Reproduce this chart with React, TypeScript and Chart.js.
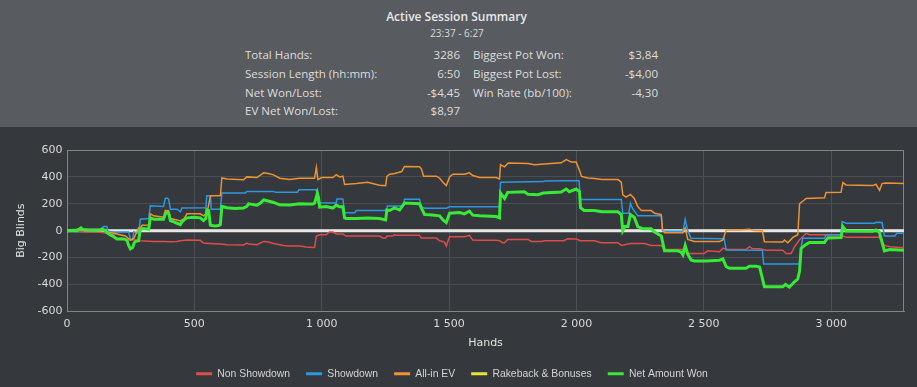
import React, { useEffect, useRef } from "react";
import { Chart, registerables } from "chart.js";

Chart.register(...registerables);

// ---------- header data ----------
const titleText = "Active Session Summary";
const subtitleText = "23:37 - 6:27";
const statLabelsLeft = ["Total Hands:", "Session Length (hh:mm):", "Net Won/Lost:", "EV Net Won/Lost:"];
const statValuesLeft = ["3286", "6:50", "-$4,45", "$8,97"];
const statLabelsRight = ["Biggest Pot Won:", "Biggest Pot Lost:", "Win Rate (bb/100):"];
const statValuesRight = ["$3,84", "-$4,00", "-4,30"];

// ---------- chart data ----------
const seriesNames = ["Non Showdown", "Showdown", "All-in EV", "Rakeback & Bonuses", "Net Amount Won"];
const seriesColors = ["#e04b4b", "#2e98de", "#ef9233", "#e6e63a", "#36ea36"];
const xAxisTitle = "Hands";
const yAxisTitle = "Big Blinds";
const xMin = 0;
const xMax = 3286;
const xTickValues = [0, 500, 1000, 1500, 2000, 2500, 3000];
const yMin = -600;
const yMax = 600;
const yTickValues = [-600, -400, -200, 0, 200, 400, 600];

const nonShowdown = [
  [0, 0], [40, -3], [66, -8], [131, -12], [157, -20], [183, -30], [196, -62], [229, -65], [281, -72], [288, -75],
  [340, -80], [380, -80], [406, -82], [432, -80], [445, -75], [471, -70], [523, -72], [536, -92], [560, -95], [602, -100],
  [628, -105], [693, -107], [706, -92], [713, -100], [746, -105], [772, -80], [790, -85], [811, -95], [850, -110], [874, -115],
  [913, -115], [940, -122], [966, -125], [972, -125], [979, -40], [992, -30], [1018, -30], [1030, -10], [1044, -10], [1057, -25],
  [1083, -25], [1096, -40], [1227, -40], [1240, -55], [1251, -55], [1256, -40], [1280, -40], [1286, -30], [1295, -35], [1384, -35],
  [1391, -55], [1450, -55], [1463, -75], [1482, -85], [1489, -115], [1495, -80], [1502, -45], [1560, -45], [1580, -35], [1593, -70],
  [1620, -72], [1685, -72], [1698, -75], [1710, -90], [1718, -90], [1730, -65], [1810, -65], [1823, -80], [1862, -80], [1875, -75],
  [1950, -75], [1966, -60], [2000, -62], [2015, -75], [2071, -75], [2097, -90], [2163, -90], [2176, -110], [2202, -100], [2215, -95],
  [2267, -95], [2293, -110], [2333, -110], [2346, -140], [2424, -140], [2437, -170], [2502, -170], [2515, -150], [2562, -157], [2575, -130],
  [2588, -140], [2666, -140], [2679, -120], [2692, -135], [2719, -135], [2745, -145], [2810, -145], [2823, -170], [2843, -170], [2856, -120],
  [2875, -70], [2902, -20], [2915, -30], [2974, -30], [2987, -40], [3046, -40], [3059, -50], [3189, -50], [3209, -110], [3230, -120],
  [3286, -127],
];

const showdown = [
  [0, 0], [50, 5], [66, 10], [131, 12], [144, 30], [157, 30], [160, -5], [183, -10], [242, -10], [249, -65],
  [258, -60], [262, -10], [281, -20], [288, 85], [321, 90], [327, 185], [379, 180], [386, 240], [393, 243], [399, 235],
  [406, 160], [432, 160], [445, 140], [451, 168], [545, 170], [549, 260], [563, 260], [566, 160], [602, 160], [608, 280],
  [700, 280], [706, 292], [811, 292], [818, 285], [905, 285], [910, 305], [979, 305], [985, 208], [1057, 205], [1060, 236],
  [1083, 236], [1090, 134], [1130, 134], [1136, 150], [1251, 150], [1253, 130], [1258, 184], [1320, 184], [1325, 234], [1384, 234],
  [1391, 179], [1404, 167], [1490, 167], [1502, 178], [1698, 178], [1702, 360], [1870, 365], [1876, 370], [1940, 372], [2010, 372],
  [2016, 232], [2176, 232], [2182, 129], [2205, 129], [2212, 204], [2220, 165], [2241, 110], [2333, 110], [2338, 0], [2346, -5],
  [2418, -5], [2427, 85], [2437, 0], [2450, -57], [2580, -60], [2588, -144], [2730, -145], [2735, -249], [2875, -249], [2882, -130],
  [2888, -57], [2974, -57], [2980, -30], [3039, -30], [3043, 67], [3059, 55], [3170, 55], [3176, 62], [3200, 60], [3209, -40],
  [3250, -40], [3258, -20], [3286, -20],
];

const allInEv = [
  [0, 0], [48, 12], [60, 8], [131, 8], [157, -10], [183, -20], [229, -40], [249, -70], [262, -60], [281, 20],
  [288, 20], [295, 40], [321, 42], [327, 125], [340, 110], [379, 100], [386, 150], [399, 148], [406, 90], [432, 80],
  [445, 72], [460, 90], [471, 125], [523, 125], [536, 110], [549, 130], [556, 190], [563, 260], [602, 260], [608, 392],
  [628, 385], [693, 378], [706, 400], [746, 395], [772, 430], [790, 425], [811, 415], [835, 390], [874, 380], [913, 390],
  [972, 390], [979, 470], [985, 380], [1000, 395], [1044, 395], [1057, 416], [1070, 400], [1083, 405], [1090, 344], [1136, 350],
  [1180, 360], [1227, 338], [1251, 335], [1256, 403], [1266, 420], [1286, 425], [1300, 432], [1314, 440], [1325, 478], [1384, 475],
  [1391, 460], [1400, 405], [1450, 405], [1463, 390], [1476, 360], [1489, 335], [1502, 400], [1515, 420], [1560, 420], [1580, 430],
  [1593, 410], [1620, 395], [1685, 395], [1698, 385], [1702, 490], [1718, 475], [1732, 503], [1810, 500], [1835, 490], [1900, 500],
  [1940, 505], [1960, 528], [1980, 510], [1999, 510], [2012, 450], [2020, 403], [2045, 391], [2071, 388], [2100, 380], [2163, 380],
  [2176, 360], [2182, 266], [2195, 250], [2212, 270], [2227, 240], [2241, 179], [2255, 149], [2293, 149], [2307, 130], [2333, 120],
  [2338, 10], [2346, -15], [2418, -15], [2427, 20], [2437, -65], [2463, -80], [2562, -80], [2575, -70], [2588, 5], [2640, 5],
  [2679, 10], [2700, 2], [2730, 0], [2738, -82], [2810, -85], [2817, -70], [2830, -90], [2850, -50], [2869, -30], [2876, 200],
  [2902, 240], [2974, 245], [2980, 284], [3039, 285], [3046, 358], [3059, 340], [3163, 335], [3176, 345], [3190, 300], [3200, 350],
  [3215, 355], [3286, 350],
];

const rakeback = [[0, 0], [3286, 0]];

const netWon = [
  [0, 0], [26, 3], [39, 0], [48, 12], [55, 20], [62, 8], [80, 5], [110, 3], [131, 5], [140, 10],
  [150, 3], [157, -15], [170, -32], [183, -45], [196, -62], [215, -60], [229, -65], [236, -75], [242, -110], [249, -135],
  [258, -125], [264, -90], [270, -80], [281, -75], [288, 10], [300, 15], [321, 10], [327, 95], [340, 85], [379, 85],
  [386, 125], [393, 135], [399, 130], [406, 75], [419, 65], [432, 55], [445, 45], [451, 65], [460, 80], [471, 95],
  [500, 100], [523, 95], [536, 75], [545, 90], [549, 155], [556, 150], [563, 40], [580, 35], [595, 38], [602, 45],
  [608, 180], [628, 170], [660, 165], [693, 168], [706, 180], [713, 200], [746, 190], [760, 205], [772, 228], [790, 220],
  [811, 210], [835, 192], [874, 190], [913, 200], [940, 198], [966, 198], [972, 205], [979, 250], [983, 280], [987, 250],
  [992, 175], [1018, 180], [1044, 168], [1057, 190], [1070, 178], [1083, 178], [1090, 95], [1096, 90], [1136, 90], [1180, 95],
  [1227, 90], [1251, 80], [1256, 155], [1266, 150], [1286, 170], [1306, 155], [1325, 205], [1384, 200], [1391, 170], [1404, 120],
  [1423, 118], [1463, 110], [1476, 80], [1489, 60], [1502, 130], [1541, 135], [1560, 125], [1580, 145], [1593, 115], [1620, 110],
  [1685, 105], [1698, 95], [1702, 280], [1718, 240], [1730, 285], [1796, 290], [1810, 270], [1849, 268], [1870, 280], [1940, 288],
  [1960, 310], [1972, 290], [1999, 310], [2012, 290], [2016, 170], [2030, 150], [2071, 150], [2100, 140], [2163, 140], [2176, 120],
  [2182, 0], [2190, 30], [2202, 30], [2212, 120], [2227, 100], [2241, 30], [2260, 15], [2293, 15], [2307, -10], [2333, -40],
  [2346, -150], [2398, -150], [2411, -160], [2418, -180], [2427, -110], [2437, -175], [2450, -218], [2463, -225], [2509, -225], [2562, -220],
  [2575, -210], [2588, -268], [2601, -280], [2666, -280], [2679, -265], [2706, -265], [2719, -270], [2738, -418], [2810, -418], [2821, -400],
  [2836, -420], [2856, -380], [2869, -360], [2876, -300], [2882, -132], [2902, -102], [2915, -88], [2974, -88], [2980, -70], [2987, -55],
  [3039, -52], [3046, 30], [3059, -2], [3163, -5], [3176, 5], [3189, -10], [3209, -150], [3230, -140], [3286, -145],
];

const seriesData = [nonShowdown, showdown, allInEv, rakeback, netWon];
const seriesWidths = [1.5, 1.5, 1.5, 2, 3];
const seriesOrder = [4, 3, 2, 5, 1];
const RAKEBACK_INDEX = 3;

const formatThousands = (v: number) => String(v).replace(/\B(?=(\d{3})+(?!\d))/g, " ");

const zeroLinePlugin = {
  id: "zeroLine",
  afterDatasetDraw(chart: any, args: any) {
    if (args.index !== RAKEBACK_INDEX) return;
    const y = chart.scales.y.getPixelForValue(0);
    const { left, right } = chart.chartArea;
    const ctx = chart.ctx;
    ctx.save();
    ctx.strokeStyle = "#e6e6e6";
    ctx.lineWidth = 3;
    ctx.beginPath();
    ctx.moveTo(left, y);
    ctx.lineTo(right, y);
    ctx.stroke();
    ctx.restore();
  },
};

const frameBorderPlugin = {
  id: "frameBorder",
  beforeDatasetsDraw(chart: any) {
    const { left, right, top, bottom } = chart.chartArea;
    const ctx = chart.ctx;
    ctx.save();
    ctx.strokeStyle = "#858585";
    ctx.lineWidth = 1;
    ctx.strokeRect(Math.round(left) + 0.5, Math.round(top) + 0.5, Math.round(right - left) - 1, Math.round(bottom - top));
    ctx.restore();
  },
};

export default function App() {
  const canvasRef = useRef<HTMLCanvasElement>(null);

  useEffect(() => {
    document.body.style.margin = "0";
    const canvas = canvasRef.current;
    if (!canvas) return;
    const chart = new Chart(canvas, {
      type: "line",
      data: {
        datasets: seriesNames.map((name, i) => ({
          label: name,
          data: seriesData[i] as any,
          borderColor: seriesColors[i],
          backgroundColor: seriesColors[i],
          borderWidth: seriesWidths[i],
          pointRadius: 0,
          pointHoverRadius: 0,
          tension: 0,
          fill: false,
          order: seriesOrder[i],
        })),
      },
      options: {
        animation: false,
        responsive: false,
        maintainAspectRatio: false,
        devicePixelRatio: 1,
        events: [],
        layout: { padding: { top: 23, right: 13, left: 0, bottom: 0 } },
        plugins: {
          tooltip: { enabled: false },
          legend: {
            position: "bottom",
            labels: {
              boxWidth: 16,
              boxHeight: 3,
              padding: 16,
              color: "#d4d4d4",
              font: { family: "'Liberation Sans', Arial, sans-serif", size: 10.4 },
              generateLabels: (ch: any) =>
                ch.data.datasets.map((ds: any, i: number) => ({
                  text: ds.label,
                  fillStyle: seriesColors[i],
                  strokeStyle: seriesColors[i],
                  lineWidth: 0,
                  hidden: false,
                  datasetIndex: i,
                  fontColor: "#d4d4d4",
                })),
            },
          },
        },
        scales: {
          x: {
            type: "linear",
            min: xMin,
            max: xMax,
            afterFit: (s: any) => {
              s.height = 41.3;
            },
            afterBuildTicks: (s: any) => {
              s.ticks = xTickValues.map((v) => ({ value: v }));
            },
            ticks: {
              autoSkip: false,
              maxRotation: 0,
              padding: 6,
              color: "#dadada",
              font: { family: "'DejaVu Sans', sans-serif", size: 11 },
              callback: (v: any) => formatThousands(Number(v)),
            },
            grid: { color: "#4d5054", lineWidth: 1, drawTicks: false },
            border: { color: "#858585", width: 1 },
            title: {
              display: true,
              text: xAxisTitle,
              color: "#e2e2e2",
              font: { family: "'DejaVu Sans', sans-serif", size: 11 },
              padding: { top: 0, bottom: 3 },
            },
          },
          y: {
            type: "linear",
            min: yMin,
            max: yMax,
            afterFit: (s: any) => {
              s.width = 67;
            },
            afterBuildTicks: (s: any) => {
              s.ticks = yTickValues.map((v) => ({ value: v }));
            },
            ticks: {
              padding: 4.5,
              color: "#dadada",
              font: { family: "'DejaVu Sans', sans-serif", size: 11 },
            },
            grid: { color: "#4a4d51", lineWidth: 1, drawTicks: false },
            border: { color: "#858585", width: 1 },
            title: {
              display: true,
              text: yAxisTitle,
              color: "#e2e2e2",
              font: { family: "'DejaVu Sans', sans-serif", size: 11 },
              padding: { top: 14.4, bottom: 0 },
            },
          },
        },
      },
      plugins: [zeroLinePlugin, frameBorderPlugin],
    });
    return () => chart.destroy();
  }, []);

  const headerFont = "'Open Sans', 'Noto Sans', sans-serif";
  const rowTops = [47, 65.8, 84.6, 103.4];
  const statSize = 11.55;

  return (
    <div style={{ position: "relative", width: 917, height: 387, overflow: "hidden", background: "#35383c" }}>
      <div style={{ position: "absolute", left: 0, top: 0, width: 917, height: 127, background: "#585b5f", fontFamily: headerFont }}>
        <div style={{ position: "absolute", left: 0, top: 9, width: 913, textAlign: "center", fontSize: 12, fontWeight: 600, lineHeight: "16px", color: "#e8e8e8" }}>
          {titleText}
        </div>
        <div style={{ position: "absolute", left: 0, top: 26, width: 914, textAlign: "center", fontSize: 10, lineHeight: "14px", color: "#dcdcdc" }}>
          {subtitleText}
        </div>
        {statLabelsLeft.map((t, i) => (
          <div key={"ll" + i} style={{ position: "absolute", left: 245, top: rowTops[i], fontSize: statSize, lineHeight: "16px", color: "#dedede", whiteSpace: "nowrap" }}>
            {t}
          </div>
        ))}
        {statValuesLeft.map((t, i) => (
          <div key={"lv" + i} style={{ position: "absolute", right: 917 - 460, top: rowTops[i], fontSize: statSize, lineHeight: "16px", color: "#dedede", textAlign: "right", whiteSpace: "nowrap" }}>
            {t}
          </div>
        ))}
        {statLabelsRight.map((t, i) => (
          <div key={"rl" + i} style={{ position: "absolute", left: 473, top: rowTops[i], fontSize: statSize, lineHeight: "16px", color: "#dedede", whiteSpace: "nowrap" }}>
            {t}
          </div>
        ))}
        {statValuesRight.map((t, i) => (
          <div key={"rv" + i} style={{ position: "absolute", right: 917 - 658, top: rowTops[i], fontSize: statSize, lineHeight: "16px", color: "#dedede", textAlign: "right", whiteSpace: "nowrap" }}>
            {t}
          </div>
        ))}
      </div>
      <div style={{ position: "absolute", left: 0, top: 127, width: 917, height: 262 }}>
        <canvas ref={canvasRef} width={917} height={262} style={{ display: "block", width: 917, height: 262 }} />
      </div>
    </div>
  );
}
